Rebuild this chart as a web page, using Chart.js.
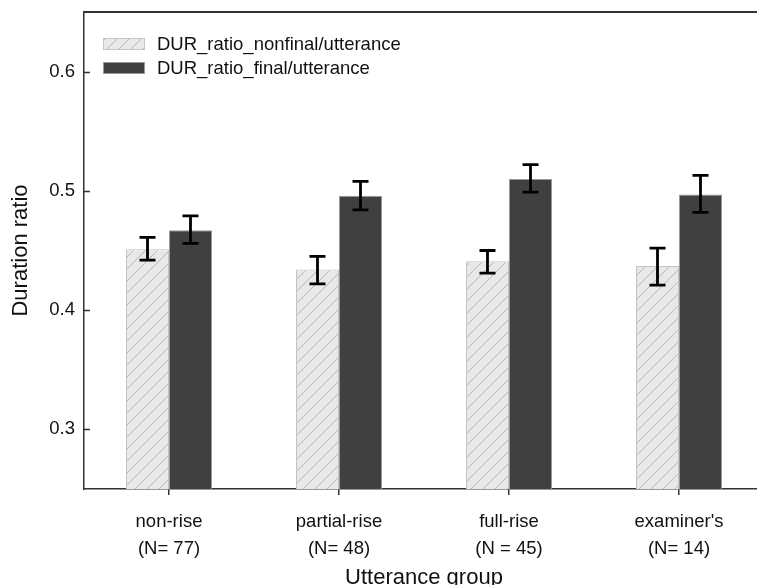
<!doctype html>
<html lang="en">
<head>
<meta charset="utf-8">
<title>Duration ratio by utterance group</title>
<style>
  *{margin:0;padding:0;box-sizing:border-box;}
  body{background:#fff;overflow:hidden;}
  .chartbox{width:757px;height:585px;overflow:hidden;}
  .chartbox div{width:770px;height:585px;}
</style>
</head>
<body>
<div class="chartbox"><div><canvas id="myChart"></canvas></div></div>
<script src="https://cdn.jsdelivr.net/npm/chart.js@4.4.1/dist/chart.umd.min.js"></script>
<script>
// data
const groups = [['non-rise', '(N= 77)'], ['partial-rise', '(N= 48)'], ['full-rise', '(N = 45)'], ["examiner's", '(N= 14)']];
const seriesNames = ['DUR_ratio_nonfinal/utterance', 'DUR_ratio_final/utterance'];
const nonfinalRatio = [0.451, 0.434, 0.441, 0.437];
const nonfinalLow = [0.442, 0.422, 0.431, 0.421];
const nonfinalHigh = [0.461, 0.445, 0.450, 0.452];
const finalRatio = [0.467, 0.496, 0.510, 0.497];
const finalLow = [0.456, 0.484, 0.499, 0.482];
const finalHigh = [0.479, 0.508, 0.522, 0.513];
const yTicks = [0.3, 0.4, 0.5, 0.6];

const FONT = '"Liberation Sans", Arial, Helvetica, sans-serif';
const AXIS = '#333';
const TEXT = '#111';

// hatched fill for the nonfinal bars
function hatch() {
    const n = 12;
    const c = document.createElement('canvas');
    c.width = n; c.height = n;
    const g = c.getContext('2d');
    g.fillStyle = '#e8e8e8';
    g.fillRect(0, 0, n, n);
    g.strokeStyle = '#b8b8b8';
    g.lineWidth = 1;
    g.beginPath();
    g.moveTo(-1, n + 1); g.lineTo(n + 1, -1);
    g.moveTo(-1, 1); g.lineTo(1, -1);
    g.moveTo(n - 1, n + 1); g.lineTo(n + 1, n - 1);
    g.stroke();
    return g.createPattern(c, 'repeat');
}
const hatchFill = hatch();

const extras = {
    id: 'extras',
    afterDatasetsDraw(chart) {
        const ctx = chart.ctx;
        const y = chart.scales.y;
        const area = chart.chartArea;
        const lows = [nonfinalLow, finalLow];
        const highs = [nonfinalHigh, finalHigh];
        ctx.save();
        // error bars
        ctx.strokeStyle = '#000';
        ctx.lineWidth = 2.8;
        [0, 1].forEach(i => {
            chart.getDatasetMeta(i).data.forEach((bar, j) => {
                const x = bar.x;
                const y1 = y.getPixelForValue(lows[i][j]);
                const y2 = y.getPixelForValue(highs[i][j]);
                ctx.beginPath();
                ctx.moveTo(x, y1); ctx.lineTo(x, y2);
                ctx.moveTo(x - 8, y1); ctx.lineTo(x + 8, y1);
                ctx.moveTo(x - 8, y2); ctx.lineTo(x + 8, y2);
                ctx.stroke();
            });
        });
        // inward y ticks and top frame line
        ctx.strokeStyle = AXIS;
        ctx.lineWidth = 1.5;
        ctx.beginPath();
        yTicks.forEach(v => {
            const py = Math.round(y.getPixelForValue(v)) + 0.5;
            ctx.moveTo(area.left, py); ctx.lineTo(area.left + 6, py);
        });
        ctx.stroke();
        ctx.lineWidth = 2;
        ctx.beginPath();
        ctx.moveTo(area.left, area.top); ctx.lineTo(area.right + 10, area.top);
        ctx.stroke();
        // legend
        const fills = [hatchFill, '#404040'];
        const edges = ['#c4c4c4', '#9a9a9a'];
        ctx.font = '18.5px ' + FONT;
        ctx.textBaseline = 'middle';
        ctx.textAlign = 'left';
        seriesNames.forEach((name, i) => {
            const top = 38 + i * 24;
            ctx.fillStyle = fills[i];
            ctx.fillRect(103, top, 42, 12);
            ctx.strokeStyle = edges[i];
            ctx.lineWidth = 1;
            ctx.strokeRect(103.5, top + 0.5, 41, 11);
            ctx.fillStyle = TEXT;
            ctx.fillText(name, 157, top + 6.5);
        });
        ctx.restore();
    }
};

const ctx = document.getElementById('myChart').getContext('2d');
const myChart = new Chart(ctx, {
    type: 'bar',
    data: {
        labels: groups,
        datasets: [{
            label: seriesNames[0],
            data: nonfinalRatio,
            backgroundColor: hatchFill,
            borderColor: '#c4c4c4',
            borderWidth: 1
        }, {
            label: seriesNames[1],
            data: finalRatio,
            backgroundColor: '#404040',
            borderColor: '#9a9a9a',
            borderWidth: 1
        }]
    },
    options: {
        responsive: true,
        maintainAspectRatio: false,
        animation: false,
        layout: { padding: { left: 0, top: 12, right: 6, bottom: 0 } },
        datasets: { bar: { categoryPercentage: 0.506, barPercentage: 1.0 } },
        plugins: { legend: { display: false }, tooltip: { enabled: false } },
        scales: {
            x: {
                afterFit: s => { s.height = 96; },
                grid: { display: true, offset: false, drawOnChartArea: false, drawTicks: true, tickLength: 6, color: AXIS, lineWidth: 1.5 },
                border: { display: true, color: AXIS, width: 1.5 },
                ticks: { color: TEXT, padding: 13, maxRotation: 0, font: { family: FONT, size: 18.5, lineHeight: 1.46 } },
                title: { display: true, text: 'Utterance group', color: TEXT, padding: 0, font: { family: FONT, size: 22, lineHeight: 0.65 } }
            },
            y: {
                min: 0.25,
                max: 0.65,
                afterFit: s => { s.width = 84; s.paddingTop = 0; s.paddingBottom = 0; },
                afterBuildTicks: s => { s.ticks = yTicks.map(v => ({ value: v })); },
                grid: { display: false, drawTicks: false },
                border: { display: true, color: AXIS, width: 1.5 },
                ticks: { color: TEXT, padding: 9, font: { family: FONT, size: 18.5 }, callback: v => v.toFixed(1) },
                title: { display: true, text: 'Duration ratio', color: TEXT, padding: { top: 8 }, font: { family: FONT, size: 22, lineHeight: 1.2 } }
            }
        }
    },
    plugins: [extras]
});
</script>
</body>
</html>
